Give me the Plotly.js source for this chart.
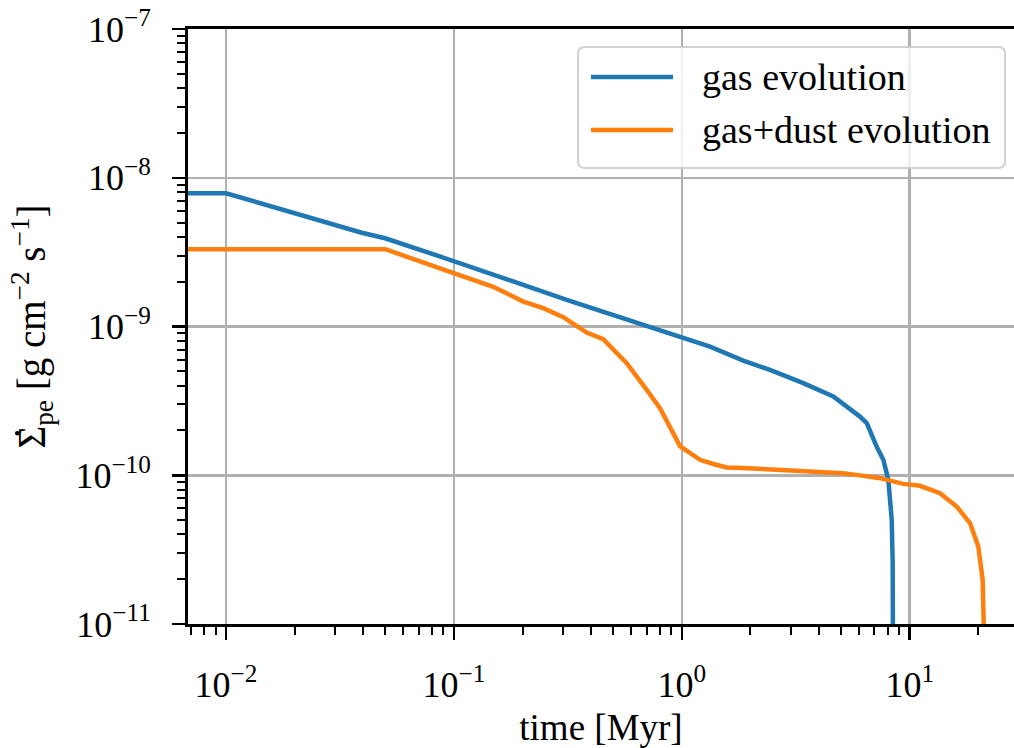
<!DOCTYPE html>
<html>
<head>
<meta charset="utf-8">
<script src="https://cdn.plot.ly/plotly-3.0.1.min.js"></script>
<style>
  html, body { margin: 0; padding: 0; background: #ffffff; }
  #chart { width: 1014px; height: 748px; }
</style>
</head>
<body>
<div id="chart"></div>
<script>
// Photoevaporation rate vs. time for the two model runs
const seriesNames = ['gas evolution', 'gas+dust evolution'];
const seriesColors = ['#1f77b4', '#ff7f0e'];

// gas evolution
const tGas = [0.006, 0.01, 0.0394, 0.0499, 0.0854, 0.1064, 0.1704, 0.1887, 0.3126, 0.5537,
              0.982, 1.33, 1.861, 2.438, 3.413, 4.62, 6.05, 6.48, 7.16, 7.66,
              8.06, 8.34, 8.42, 8.44];
const sigmaGas = [7.87e-9, 7.87e-9, 4.27e-9, 3.92e-9, 2.98e-9, 2.66e-9, 2.11e-9, 1.97e-9, 1.51e-9, 1.137e-9,
                  8.45e-10, 7.33e-10, 5.90e-10, 5.11e-10, 4.16e-10, 3.38e-10, 2.48e-10, 2.24e-10, 1.56e-10, 1.27e-10,
                  9.31e-11, 5.01e-11, 2.57e-11, 8e-12];

// gas+dust evolution
const tDust = [0.006, 0.05, 0.0869, 0.1489, 0.2016, 0.2467, 0.302, 0.3826, 0.4523, 0.5732,
               0.7015, 0.8024, 0.982, 1.202, 1.375, 1.574, 1.85, 2.203, 2.6, 3.085,
               3.6, 4.323, 5.1, 6.05, 7.41, 9.37, 11.1, 13.58, 16.08, 18.39,
               20.0, 20.9, 21.18, 21.2];
const sigmaDust = [3.31e-9, 3.31e-9, 2.46e-9, 1.85e-9, 1.47e-9, 1.33e-9, 1.155e-9, 9.1e-10, 8.22e-10, 5.67e-10,
                   3.75e-10, 2.82e-10, 1.57e-10, 1.27e-10, 1.19e-10, 1.127e-10, 1.12e-10, 1.104e-10, 1.09e-10, 1.075e-10,
                   1.06e-10, 1.042e-10, 1.03e-10, 9.98e-11, 9.56e-11, 8.75e-11, 8.49e-11, 7.58e-11, 6.16e-11, 4.77e-11,
                   3.32e-11, 1.98e-11, 1.02e-11, 8e-12];

// axis ticks
const xTickVals = [0.01, 0.1, 1, 10];
const xTickText = ['10<sup>−2</sup>', '10<sup>−1</sup>', '10<sup>0</sup>', '10<sup>1</sup>'];
const yTickVals = [1e-11, 1e-10, 1e-9, 1e-8, 1e-7];
const yTickText = ['10<sup>−11</sup>', '10<sup>−10</sup>', '10<sup>−9</sup>', '10<sup>−8</sup>', '10<sup>−7</sup>'];

function minorTicks(fromExp, toExp) {
  const out = [];
  for (let e = fromExp; e <= toExp; e++) {
    for (let k = 2; k <= 9; k++) out.push(k * Math.pow(10, e));
  }
  return out;
}

// figure geometry (pixels)
const W = 1014, H = 748;
const M = { l: 188, r: 0, t: 29, b: 124 };
const plotW = W - M.l - M.r, plotH = H - M.t - M.b;
const px = x => (x - M.l) / plotW;
const py = y => (H - M.b - y) / plotH;

const FONT = 'Liberation Serif, Times New Roman, serif';

const traces = [
  { x: tGas, y: sigmaGas, name: seriesNames[0], type: 'scatter', mode: 'lines',
    line: { color: seriesColors[0], width: 4.5 } },
  { x: tDust, y: sigmaDust, name: seriesNames[1], type: 'scatter', mode: 'lines',
    line: { color: seriesColors[1], width: 4.5 } }
];

// rounded legend frame
function roundedRect(x0, y0, x1, y1, r) {
  const X0 = px(x0), X1 = px(x1), Y0 = py(y0), Y1 = py(y1);
  const rx = r / plotW, ry = r / plotH;
  return `M ${X0 + rx},${Y0} L ${X1 - rx},${Y0} Q ${X1},${Y0} ${X1},${Y0 - ry} ` +
         `L ${X1},${Y1 + ry} Q ${X1},${Y1} ${X1 - rx},${Y1} L ${X0 + rx},${Y1} ` +
         `Q ${X0},${Y1} ${X0},${Y1 + ry} L ${X0},${Y0 - ry} Q ${X0},${Y0} ${X0 + rx},${Y0} Z`;
}

const legendRows = [77, 130];
const shapes = [
  { type: 'path', xref: 'paper', yref: 'paper', path: roundedRect(578, 47, 1005, 168, 7),
    fillcolor: 'rgba(255,255,255,0.8)', line: { color: 'rgba(204,204,204,0.9)', width: 2 }, layer: 'above' },
  // time-derivative dot over the Sigma of the y-axis title
  { type: 'circle', xref: 'paper', yref: 'paper', x0: px(15), x1: px(19.5), y0: py(431), y1: py(435.5),
    fillcolor: '#000', line: { width: 0 } }
];
const annotations = [];
legendRows.forEach((yy, i) => {
  shapes.push({ type: 'line', xref: 'paper', yref: 'paper', x0: px(591), x1: px(673), y0: py(yy), y1: py(yy),
                line: { color: seriesColors[i], width: 4.5 }, layer: 'above' });
  annotations.push({ xref: 'paper', yref: 'paper', x: px(700), y: py(yy), xanchor: 'left', yanchor: 'middle',
                     text: seriesNames[i], showarrow: false, font: { family: FONT, size: 38, color: '#000' } });
});

const axisCommon = {
  type: 'log', ticks: 'outside', ticklen: 13, tickwidth: 2.5, tickcolor: '#000',
  showline: true, linewidth: 3, linecolor: '#000',
  showgrid: true, gridcolor: '#b0b0b0', gridwidth: 2.5, zeroline: false,
  tickfont: { family: FONT, size: 36, color: '#000' }, tickmode: 'array'
};

const layout = {
  width: W, height: H, margin: M,
  paper_bgcolor: '#ffffff', plot_bgcolor: '#ffffff',
  font: { family: FONT, size: 36, color: '#000' },
  showlegend: false,
  xaxis: Object.assign({}, axisCommon, {
    range: [(M.l - 681.8) / 227.9, (W - 681.8) / 227.9],
    tickvals: xTickVals, ticktext: xTickText, mirror: true, ticklabelstandoff: 14,
    minor: { tickmode: 'array', tickvals: minorTicks(-3, 1), ticks: 'outside', ticklen: 8, tickwidth: 2, tickcolor: '#000', showgrid: false },
    title: { text: 'time [Myr]', font: { family: FONT, size: 37, color: '#000' }, standoff: 12 }
  }),
  yaxis: Object.assign({}, axisCommon, {
    range: [-11, -7],
    tickvals: yTickVals, ticktext: yTickText, mirror: false, ticklabelstandoff: 14,
    minor: { tickmode: 'array', tickvals: minorTicks(-11, -8), ticks: 'outside', ticklen: 8, tickwidth: 2, tickcolor: '#000', showgrid: false },
    title: { text: 'Σ<sub>pe</sub> [g cm<sup>−2</sup> s<sup>−1</sup>]',
             font: { family: FONT, size: 39, color: '#000' }, standoff: 18 }
  }),
  shapes: shapes,
  annotations: annotations
};

Plotly.newPlot('chart', traces, layout, { displayModeBar: false, staticPlot: true });
</script>
</body>
</html>
